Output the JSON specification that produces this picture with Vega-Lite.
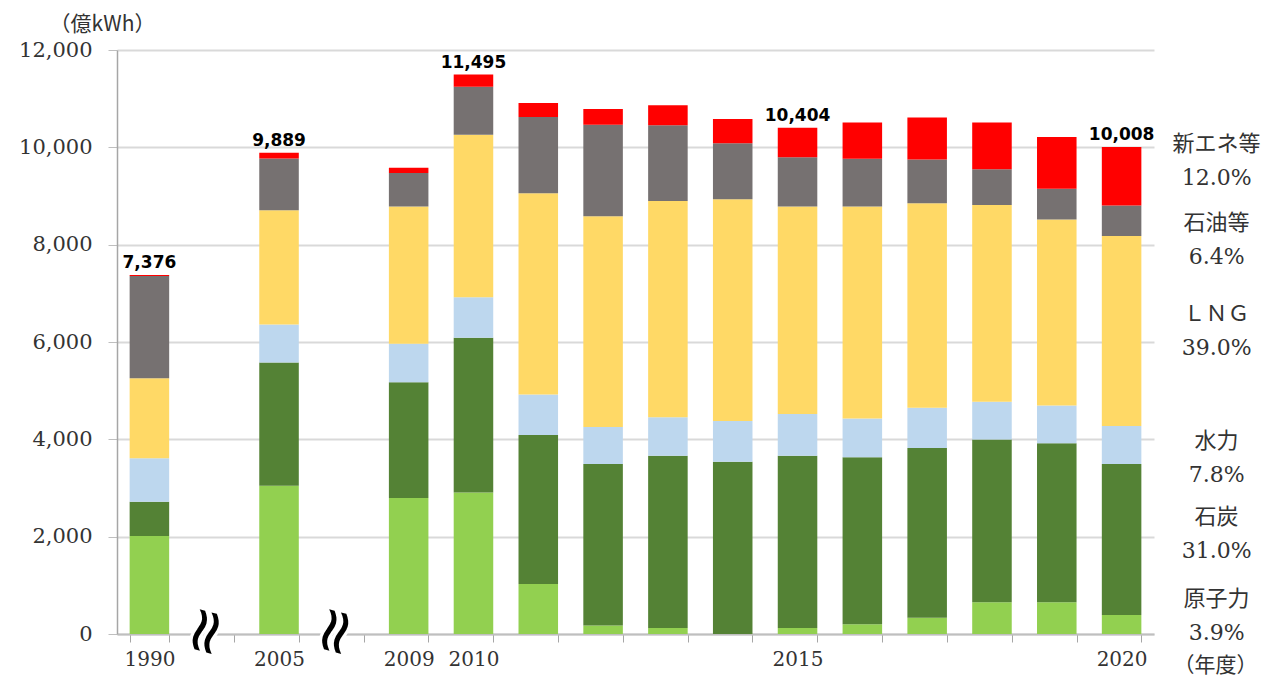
{
  "$schema": "https://vega.github.io/schema/vega-lite/v6.json",
  "autosize": {"type": "none"},
  "padding": {"left": 117, "top": 50, "right": 118, "bottom": 43},
  "width": 1037,
  "height": 584,
  "background": "white",
  "config": {"view": {"stroke": null}, "font": "DejaVu Serif"},
  "datasets": {
    "gen": [
      {"year": "1990", "source": "原子力", "value": 2014},
      {"year": "1990", "source": "石炭", "value": 705},
      {"year": "1990", "source": "水力", "value": 892},
      {"year": "1990", "source": "ＬＮＧ", "value": 1644},
      {"year": "1990", "source": "石油等", "value": 2101},
      {"year": "1990", "source": "新エネ等", "value": 20},
      {"year": "2005", "source": "原子力", "value": 3048},
      {"year": "2005", "source": "石炭", "value": 2530},
      {"year": "2005", "source": "水力", "value": 784},
      {"year": "2005", "source": "ＬＮＧ", "value": 2345},
      {"year": "2005", "source": "石油等", "value": 1063},
      {"year": "2005", "source": "新エネ等", "value": 119},
      {"year": "2009", "source": "原子力", "value": 2796},
      {"year": "2009", "source": "石炭", "value": 2378},
      {"year": "2009", "source": "水力", "value": 790},
      {"year": "2009", "source": "ＬＮＧ", "value": 2819},
      {"year": "2009", "source": "石油等", "value": 692},
      {"year": "2009", "source": "新エネ等", "value": 106},
      {"year": "2010", "source": "原子力", "value": 2910},
      {"year": "2010", "source": "石炭", "value": 3176},
      {"year": "2010", "source": "水力", "value": 836},
      {"year": "2010", "source": "ＬＮＧ", "value": 3335},
      {"year": "2010", "source": "石油等", "value": 988},
      {"year": "2010", "source": "新エネ等", "value": 250},
      {"year": "2011", "source": "原子力", "value": 1026},
      {"year": "2011", "source": "石炭", "value": 3062},
      {"year": "2011", "source": "水力", "value": 835},
      {"year": "2011", "source": "ＬＮＧ", "value": 4134},
      {"year": "2011", "source": "石油等", "value": 1565},
      {"year": "2011", "source": "新エネ等", "value": 288},
      {"year": "2012", "source": "原子力", "value": 175},
      {"year": "2012", "source": "石炭", "value": 3320},
      {"year": "2012", "source": "水力", "value": 760},
      {"year": "2012", "source": "ＬＮＧ", "value": 4331},
      {"year": "2012", "source": "石油等", "value": 1876},
      {"year": "2012", "source": "新エネ等", "value": 327},
      {"year": "2013", "source": "原子力", "value": 122},
      {"year": "2013", "source": "石炭", "value": 3540},
      {"year": "2013", "source": "水力", "value": 790},
      {"year": "2013", "source": "ＬＮＧ", "value": 4445},
      {"year": "2013", "source": "石油等", "value": 1558},
      {"year": "2013", "source": "新エネ等", "value": 410},
      {"year": "2014", "source": "原子力", "value": 0},
      {"year": "2014", "source": "石炭", "value": 3541},
      {"year": "2014", "source": "水力", "value": 835},
      {"year": "2014", "source": "ＬＮＧ", "value": 4559},
      {"year": "2014", "source": "石油等", "value": 1148},
      {"year": "2014", "source": "新エネ等", "value": 501},
      {"year": "2015", "source": "原子力", "value": 122},
      {"year": "2015", "source": "石炭", "value": 3540},
      {"year": "2015", "source": "水力", "value": 859},
      {"year": "2015", "source": "ＬＮＧ", "value": 4262},
      {"year": "2015", "source": "石油等", "value": 1011},
      {"year": "2015", "source": "新エネ等", "value": 610},
      {"year": "2016", "source": "原子力", "value": 198},
      {"year": "2016", "source": "石炭", "value": 3434},
      {"year": "2016", "source": "水力", "value": 798},
      {"year": "2016", "source": "ＬＮＧ", "value": 4353},
      {"year": "2016", "source": "石油等", "value": 980},
      {"year": "2016", "source": "新エネ等", "value": 745},
      {"year": "2017", "source": "原子力", "value": 334},
      {"year": "2017", "source": "石炭", "value": 3488},
      {"year": "2017", "source": "水力", "value": 828},
      {"year": "2017", "source": "ＬＮＧ", "value": 4202},
      {"year": "2017", "source": "石油等", "value": 896},
      {"year": "2017", "source": "新エネ等", "value": 866},
      {"year": "2018", "source": "原子力", "value": 653},
      {"year": "2018", "source": "石炭", "value": 3344},
      {"year": "2018", "source": "水力", "value": 775},
      {"year": "2018", "source": "ＬＮＧ", "value": 4042},
      {"year": "2018", "source": "石油等", "value": 737},
      {"year": "2018", "source": "新エネ等", "value": 957},
      {"year": "2019", "source": "原子力", "value": 653},
      {"year": "2019", "source": "石炭", "value": 3268},
      {"year": "2019", "source": "水力", "value": 775},
      {"year": "2019", "source": "ＬＮＧ", "value": 3821},
      {"year": "2019", "source": "石油等", "value": 631},
      {"year": "2019", "source": "新エネ等", "value": 1064},
      {"year": "2020", "source": "原子力", "value": 390, "share": "3.9%"},
      {"year": "2020", "source": "石炭", "value": 3102, "share": "31.0%"},
      {"year": "2020", "source": "水力", "value": 781, "share": "7.8%"},
      {"year": "2020", "source": "ＬＮＧ", "value": 3903, "share": "39.0%"},
      {"year": "2020", "source": "石油等", "value": 630, "share": "6.4%"},
      {"year": "2020", "source": "新エネ等", "value": 1202, "share": "12.0%"}
    ],
    "breaks": [{"slot": "b1"}, {"slot": "b2"}]
  },
  "layer": [
    {
      "data": {"name": "gen"},
      "transform": [
        {"calculate": "indexof(['原子力','石炭','水力','ＬＮＧ','石油等','新エネ等'], datum.source)", "as": "idx"}
      ],
      "mark": {"type": "bar"},
      "encoding": {
        "x": {
          "field": "year", "type": "nominal", "sort": null,
          "scale": {
            "domain": ["1990", "b1", "2005", "b2", "2009", "2010", "2011", "2012", "2013", "2014", "2015", "2016", "2017", "2018", "2019", "2020"],
            "paddingInner": 0.39, "paddingOuter": 0.195
          },
          "axis": {
            "title": "（年度）", "titleX": 1098, "titleY": 31, "titleAlign": "center", "titleBaseline": "middle",
            "titleFont": "Noto Sans CJK JP", "titleFontSize": 21, "titleFontWeight": "normal", "titleColor": "#333333",
            "labelAngle": 0,
            "labelExpr": "indexof(['1990','2005','2009','2010','2015','2020'], datum.value) >= 0 ? datum.value : ''",
            "tickBand": "extent", "labelFont": "DejaVu Serif", "labelFontSize": 20, "labelColor": "#333333",
            "labelPadding": 7, "tickSize": 8, "tickColor": "#a6a6a6", "domainColor": "#bfbfbf", "domainWidth": 2,
            "grid": false
          }
        },
        "y": {
          "field": "value", "type": "quantitative", "stack": "zero",
          "scale": {"domain": [0, 12000], "nice": false},
          "axis": {
            "title": "（億kWh）", "titleAngle": 0, "titleX": -15, "titleY": -26, "titleAlign": "center", "titleBaseline": "middle",
            "titleFont": "Noto Sans CJK JP", "titleFontSize": 21, "titleFontWeight": "normal", "titleColor": "#333333",
            "values": [0, 2000, 4000, 6000, 8000, 10000, 12000],
            "labelExpr": "format(datum.value, ',')",
            "grid": true, "gridColor": "#d9d9d9", "gridWidth": 2,
            "domainColor": "#a6a6a6", "domainWidth": 1.5, "tickSize": 9, "tickColor": "#bfbfbf",
            "labelPadding": 16, "labelFont": "DejaVu Serif", "labelFontSize": 21, "labelColor": "#333333"
          }
        },
        "color": {
          "field": "source", "type": "nominal",
          "scale": {
            "domain": ["原子力", "石炭", "水力", "ＬＮＧ", "石油等", "新エネ等"],
            "range": ["#92D050", "#548235", "#BDD7EE", "#FFD966", "#767171", "#FF0000"]
          },
          "legend": null
        },
        "order": {"field": "idx", "type": "quantitative", "sort": "ascending"}
      }
    },
    {
      "data": {"name": "gen"},
      "transform": [
        {"filter": {"field": "year", "oneOf": ["1990", "2005", "2010", "2015", "2020"]}},
        {"aggregate": [{"op": "sum", "field": "value", "as": "total"}], "groupby": ["year"]}
      ],
      "mark": {"type": "text", "font": "DejaVu Sans", "fontWeight": "bold", "fontSize": 17, "dy": -7, "baseline": "alphabetic", "align": "center", "color": "#000000"},
      "encoding": {
        "x": {"field": "year", "type": "nominal"},
        "y": {"field": "total", "type": "quantitative"},
        "text": {"field": "total", "type": "quantitative", "format": ","}
      }
    },
    {
      "data": {"name": "gen"},
      "transform": [
        {"filter": "datum.year == '2020'"},
        {"calculate": "indexof(['原子力','石炭','水力','ＬＮＧ','石油等','新エネ等'], datum.source)", "as": "idx"},
        {"stack": "value", "groupby": ["year"], "sort": [{"field": "idx", "order": "ascending"}], "as": ["v0", "v1"]},
        {"calculate": "(datum.v0 + datum.v1) / 2", "as": "mid"},
        {"calculate": "datum.source + '\\n' + datum.share", "as": "note"}
      ],
      "encoding": {
        "x": {"field": "year", "type": "nominal"},
        "y": {"field": "mid", "type": "quantitative"},
        "text": {"field": "note", "type": "nominal"}
      },
      "layer": [
        {
          "transform": [{"filter": "datum.source == '新エネ等'"}],
          "mark": {"type": "text", "align": "center", "baseline": "middle", "dx": 95, "dy": -32, "lineHeight": 34, "lineBreak": "\n", "font": "DejaVu Serif, Noto Sans CJK JP", "fontSize": 22, "color": "#333333"}
        },
        {
          "transform": [{"filter": "datum.source == '石油等'"}],
          "mark": {"type": "text", "align": "center", "baseline": "middle", "dx": 95, "dy": 2, "lineHeight": 34, "lineBreak": "\n", "font": "DejaVu Serif, Noto Sans CJK JP", "fontSize": 22, "color": "#333333"}
        },
        {
          "transform": [{"filter": "datum.source == '水力'"}],
          "mark": {"type": "text", "align": "center", "baseline": "middle", "dx": 95, "dy": -4, "lineHeight": 34, "lineBreak": "\n", "font": "DejaVu Serif, Noto Sans CJK JP", "fontSize": 22, "color": "#333333"}
        },
        {
          "transform": [{"filter": "datum.source == 'ＬＮＧ'"}],
          "mark": {"type": "text", "align": "center", "baseline": "middle", "dx": 95, "dy": -17, "lineHeight": 34, "lineBreak": "\n", "font": "DejaVu Serif, Noto Sans CJK JP", "fontSize": 22, "color": "#333333"}
        },
        {
          "transform": [{"filter": "datum.source == '石炭'"}],
          "mark": {"type": "text", "align": "center", "baseline": "middle", "dx": 95, "dy": -23, "lineHeight": 34, "lineBreak": "\n", "font": "DejaVu Serif, Noto Sans CJK JP", "fontSize": 22, "color": "#333333"}
        },
        {
          "transform": [{"filter": "datum.source == '原子力'"}],
          "mark": {"type": "text", "align": "center", "baseline": "middle", "dx": 95, "dy": -26, "lineHeight": 34, "lineBreak": "\n", "font": "DejaVu Serif, Noto Sans CJK JP", "fontSize": 22, "color": "#333333"}
        }
      ]
    },
    {
      "data": {"name": "breaks"},
      "mark": {"type": "text", "text": "≈", "angle": 105, "fontSize": 64, "dy": 10, "baseline": "middle", "align": "center", "font": "DejaVu Sans", "color": "white", "stroke": "white", "strokeWidth": 6},
      "encoding": {
        "x": {"field": "slot", "type": "nominal"},
        "y": {"datum": 0}
      }
    },
    {
      "data": {"name": "breaks"},
      "mark": {"type": "text", "text": "≈", "angle": 105, "fontSize": 64, "dy": 10, "baseline": "middle", "align": "center", "font": "DejaVu Sans", "color": "black"},
      "encoding": {
        "x": {"field": "slot", "type": "nominal"},
        "y": {"datum": 0}
      }
    }
  ]
}
